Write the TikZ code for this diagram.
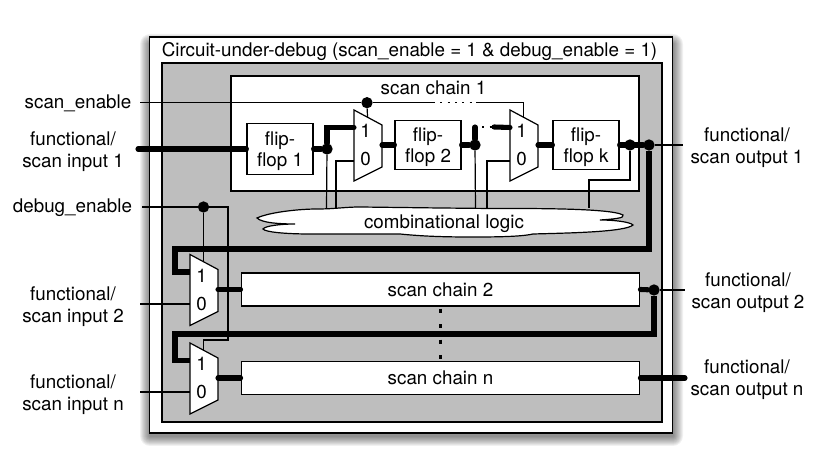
\documentclass[tikz,border=0pt]{standalone}
\usepackage{fontspec}
\setmainfont{TeX Gyre Heros}
\definecolor{panelgray}{gray}{0.745}
\newcommand{\ffstrut}{\rule{0pt}{13.5pt}}
\tikzset{
    thin wire/.style={line width=0.9pt},
    thick wire/.style={line width=3.8pt,line cap=round},
    frame/.style={draw,line width=0.9pt,inner sep=0pt},
    whitebox/.style={frame,fill=white,align=center},
    flipflop/.style={whitebox,minimum width=49.5pt,minimum height=37pt},
    longchain/.style={whitebox,minimum width=299pt,minimum height=24.75pt},
    junction/.style={circle,fill=black,inner sep=0pt,minimum size=8.5pt},
    muxshape/.style={draw,fill=white,line width=0.9pt},
    sidelabel/.style={align=center,font=\fontsize{14.1}{16.5}\selectfont},
    every node/.append style={font=\fontsize{14.1}{16}\selectfont}
}
\newcommand{\muxnode}[3]{
    \draw [muxshape] (#2,#3) -- ++(28,15) -- ++(0,42) -- ++(-28,14) -- cycle;
    \node (#1-one) at (#2+11.5,#3+21) {1};
    \node (#1-zero) at (#2+11.5,#3+49) {0};
    \coordinate (#1-sel) at (#2+13.5,#3+7);
    \coordinate (#1-in1) at (#2,#3+17.5);
    \coordinate (#1-in0) at (#2,#3+51);
    \coordinate (#1-out) at (#2+28,#3+35);
}
\begin{document}
\begin{tikzpicture}[x=0.75pt,y=-0.75pt]
    \useasboundingbox (0,0) rectangle (819,473);
    \foreach \r in {1,...,10} {
        \fill [black,opacity=0.055,rounded corners=\r*0.75pt] (150-\r,44-\r) rectangle (673+\r,436+\r);
    }
    \node [whitebox,minimum width=392.25pt,minimum height=297pt] (outer) at (411.25,235) {};
    \node [frame,fill=panelgray,minimum width=375pt,minimum height=269.25pt] (inner) at (412,242.5) {};
    \node [whitebox,minimum width=306pt,minimum height=86.25pt] (chain1) at (435,133.5) {};
    \node (title) at (409.5,51.5) {Circuit-under-debug (scan\_enable = 1 \& debug\_enable = 1)};
    \node (chain1label) at (433.5,87.5) {scan chain 1};

    \node [sidelabel] (scanen) at (78,103.5) {scan\_enable};
    \node [sidelabel] (in1) at (73,151.5) {functional/\\scan input 1};
    \node [sidelabel] (debugen) at (72.5,208) {debug\_enable};
    \node [sidelabel] (in2) at (73,306.5) {functional/\\scan input 2};
    \node [sidelabel] (inn) at (73,395) {functional/\\scan input n};
    \node [sidelabel] (out1) at (747,148) {functional/\\scan output 1};
    \node [sidelabel] (out2) at (748,292.5) {functional/\\scan output 2};
    \node [sidelabel] (outn) at (747,379.5) {functional/\\scan output n};

    \node [junction] (j1) at (327,149) {};
    \node [junction] (j2) at (475,145) {};
    \node [junction] (jk) at (630,145) {};
    \node [junction] (jout1) at (649,145) {};
    \node [junction] (jout2) at (654,290) {};
    \node [junction] (jscan) at (367,102.7) {};
    \node [junction] (jdebug) at (203.5,207) {};

    \coordinate (scanend) at (140,102.7);
    \coordinate (debugend) at (142,207);
    \coordinate (in1end) at (138,149);
    \coordinate (in2end) at (140,304);
    \coordinate (innend) at (140,392);
    \coordinate (out1end) at (683,145);
    \coordinate (out2end) at (685,290);
    \coordinate (outnend) at (685,378);
    \coordinate (dotstart) at (433,102.7);
    \coordinate (dotend) at (476,102.7);
    \coordinate (m2start) at (494,127);
    \coordinate (dropa) at (326.5,208);
    \coordinate (dropb) at (336,208);
    \coordinate (dropc) at (475.5,208);
    \coordinate (dropd) at (487,208);
    \coordinate (dropk) at (589,208);

    \muxnode{mux1}{354}{110}
    \muxnode{muxk}{510}{110}
    \muxnode{mux2}{190}{254.5}
    \muxnode{muxn}{190}{343}

    \node [flipflop,minimum height=38pt] (ff1) at (280,149) {\ffstrut flip-\\flop 1};
    \node [flipflop] (ff2) at (428,145) {\ffstrut flip-\\flop 2};
    \node [flipflop] (ffk) at (586,145) {\ffstrut flip-\\flop k};
    \node [longchain] (chain2) at (440.5,289.5) {scan chain 2};
    \node [longchain] (chainn) at (440.5,378) {scan chain n};

    \draw [thin wire] (scanend) -- (jscan) -- (dotstart);
    \draw [thin wire,dash pattern=on 1.5pt off 4pt] (dotstart) -- (dotend);
    \draw [thin wire] (dotend) -| (muxk-sel);
    \draw [thin wire] (jscan) -- (mux1-sel);
    \draw [thin wire] (j1) -- (dropa);
    \draw [thin wire] (dropb) |- (mux1-in0);
    \draw [thin wire] (j2) -- (dropc);
    \draw [thin wire] (dropd) |- (muxk-in0);
    \draw [thin wire] (jk) |- (600,180) -| (dropk);
    \draw [thin wire] (debugend) -- (jdebug) -- (228,207) -- (228,340) -| (muxn-sel);
    \draw [thin wire] (jdebug) -- (mux2-sel);
    \draw [thin wire] (in2end) -- (in2end -| mux2-in0);
    \draw [thin wire] (innend) -- (innend -| muxn-in0);
    \draw [thin wire] (jout1) -- (out1end);
    \draw [thin wire] (jout2) -- (out2end);

    \draw [thick wire] (in1end) -- (ff1.west);
    \draw [thick wire] (ff1.east) -- (j1) |- (mux1-in1);
    \draw [thick wire] (mux1-out) -- (ff2.west);
    \draw [thick wire] (ff2.east) -- (j2) -- (475,127);
    \draw [thin wire,dash pattern=on 1.5pt off 4pt] (475,127) -- (m2start);
    \draw [thick wire] (m2start) -- (muxk-in1);
    \draw [thick wire] (muxk-out) -- (ffk.west);
    \draw [thick wire] (ffk.east) -- (jout1);
    \draw [thick wire,line cap=butt] (jout1) -- (649,249) -- (175,249) -- (175,272) -- (mux2-in1);
    \draw [thick wire] (mux2-out) -- (chain2.west);
    \draw [thick wire] (chain2.east) -- (jout2);
    \draw [thick wire,line cap=butt] (jout2) -- (654,334) -- (175,334) -- (175,360.5) -- (muxn-in1);
    \draw [thick wire] (muxn-out) -- (chainn.west);
    \draw [thick wire] (chainn.east) -- (outnend);
    \draw [line width=2.2pt,dash pattern=on 3pt off 8.6pt] (chain2.south) ++(0,2) -- (chainn.north);

    \draw [frame,fill=white] (257,218) .. controls (270,212) and (300,209) .. (317,209)
        .. controls (335,209) and (345,207) .. (360,207) -- (440,208) -- (490,208.5)
        .. controls (530,208.5) and (610,208) .. (623,215) .. controls (625,218) and (615,219) .. (600,220)
        .. controls (615,220) and (630,222) .. (633,225) .. controls (625,232) and (570,233) .. (533,234)
        .. controls (520,237) and (490,237) .. (470,237) .. controls (440,237) and (420,236) .. (400,234)
        -- (310,234) .. controls (285,234) and (265,232) .. (263,229) .. controls (265,226) and (280,224) .. (295,224)
        .. controls (280,224) and (262,223) .. (257,218) -- cycle;
    \node (logic) at (444,223.5) {combinational logic};
\end{tikzpicture}
\end{document}
